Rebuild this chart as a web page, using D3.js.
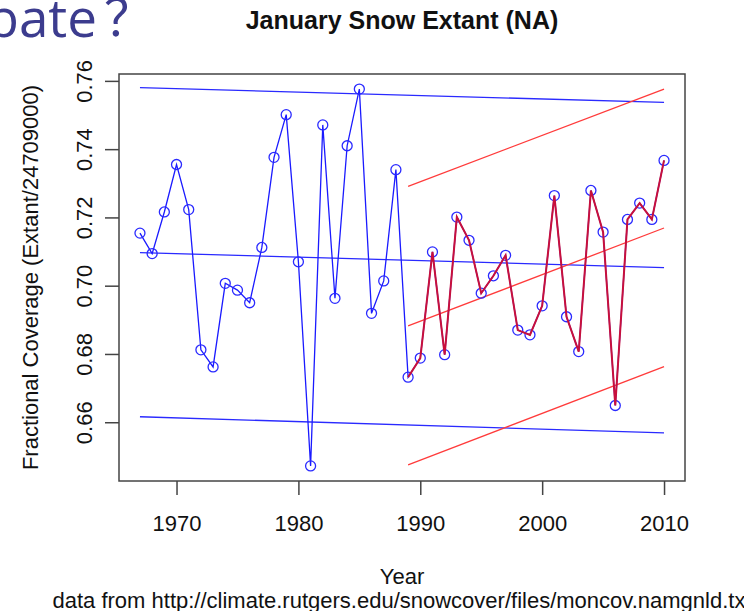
<!DOCTYPE html>
<html>
<head>
<meta charset="utf-8">
<script src="https://cdn.jsdelivr.net/npm/d3@7"></script>
<style>
  html, body { margin: 0; padding: 0; background: #ffffff; }
  svg { display: block; }
  text { font-family: "Liberation Sans", Arial, sans-serif; fill: #111; }
</style>
</head>
<body>
<svg id="chart" width="744" height="611"></svg>
<script>
// January snow cover over North America, as a fraction of 24,709,000 km²
const years = [1967, 1968, 1969, 1970, 1971, 1972, 1973, 1974, 1975, 1976,
               1977, 1978, 1979, 1980, 1981, 1982, 1983, 1984, 1985, 1986,
               1987, 1988, 1989, 1990, 1991, 1992, 1993, 1994, 1995, 1996,
               1997, 1998, 1999, 2000, 2001, 2002, 2003, 2004, 2005, 2006,
               2007, 2008, 2009, 2010];
const coverage = [0.7154, 0.7094, 0.7216, 0.7355, 0.7223, 0.6812, 0.6762, 0.7007, 0.6987, 0.6950,
                  0.7112, 0.7376, 0.7501, 0.7070, 0.6472, 0.7471, 0.6963, 0.7410, 0.7576, 0.6919,
                  0.7014, 0.7340, 0.6732, 0.6788, 0.7099, 0.6798, 0.7201, 0.7133, 0.6978, 0.7029,
                  0.7089, 0.6870, 0.6856, 0.6941, 0.7264, 0.6909, 0.6807, 0.7279, 0.7157, 0.6649,
                  0.7194, 0.7242, 0.7194, 0.7367];

// Start year of the recent sub-period that gets its own fit
const recentStart = 1989;

// Linear fit over the whole record, with its upper and lower bands (end points)
const fullFitYears  = [1967, 2010];
const fullFitMean   = [0.7097, 0.7053];
const fullFitUpper  = [0.7580, 0.7537];
const fullFitLower  = [0.6616, 0.6569];

// Linear fit over 1989-2010, with bands
const recentFitYears = [1989, 2010];
const recentFitMean  = [0.6882, 0.7169];
const recentFitUpper = [0.7291, 0.7576];
const recentFitLower = [0.6475, 0.6763];

const xTicks = [1970, 1980, 1990, 2000, 2010];
const yTicks = [0.66, 0.68, 0.70, 0.72, 0.74, 0.76];

const titleText = "January Snow Extant (NA)";
const xLabel = "Year";
const yLabel = "Fractional Coverage (Extant/24709000)";
const sourceText = "data from http://climate.rutgers.edu/snowcover/files/moncov.namgnld.txt";
const slideHeading = "Debate";

const W = 744, H = 611;
const margin = { top: 74, right: 59, bottom: 130, left: 119 };
const svg = d3.select("#chart");

// Axis ranges padded by 4% of the data span on each side
const xExt = d3.extent(years), yExt = d3.extent(coverage);
const xPad = (xExt[1] - xExt[0]) * 0.04, yPad = (yExt[1] - yExt[0]) * 0.04;
const x = d3.scaleLinear().domain([xExt[0] - xPad, xExt[1] + xPad]).range([margin.left, W - margin.right]);
const y = d3.scaleLinear().domain([yExt[0] - yPad, yExt[1] + yPad]).range([H - margin.bottom, margin.top]);

// Slide heading fragment in the upper-left corner
svg.append("text")
  .attr("x", 97).attr("y", 37)
  .attr("text-anchor", "end")
  .style("font-family", "'Open Sans', sans-serif")
  .style("font-size", "53px")
  .style("fill", "#3c3c8e")
  .text(slideHeading);
svg.append("text")
  .attr("x", 104).attr("y", 36)
  .style("font-family", "'Noto Sans CJK SC', sans-serif")
  .style("font-size", "50px")
  .style("fill", "#3c3c8e")
  .text("？");

// Title
svg.append("text")
  .attr("x", (margin.left + W - margin.right) / 2).attr("y", 29)
  .attr("text-anchor", "middle")
  .style("font-weight", "bold").style("font-size", "25px")
  .text(titleText);

// X axis
const xAxis = svg.append("g")
  .attr("transform", `translate(0,${H - margin.bottom})`)
  .call(d3.axisBottom(x).tickValues(xTicks).tickFormat(d3.format("d")).tickSize(14).tickPadding(20));
xAxis.select(".domain").remove();
xAxis.selectAll(".tick line").attr("stroke", "#444").attr("stroke-width", 1.5);
xAxis.selectAll(".tick text")
  .style("font-family", "'Liberation Sans', Arial, sans-serif")
  .style("font-size", "22px").attr("fill", "#111");

// Y axis with labels running parallel to the axis
const yAxis = svg.append("g")
  .attr("transform", `translate(${margin.left},0)`)
  .call(d3.axisLeft(y).tickValues(yTicks).tickFormat(d3.format(".2f")).tickSize(14));
yAxis.select(".domain").remove();
yAxis.selectAll(".tick line").attr("stroke", "#444").attr("stroke-width", 1.5);
yAxis.selectAll(".tick text")
  .attr("x", 0).attr("y", 0).attr("dy", 0)
  .attr("text-anchor", "middle")
  .attr("transform", "translate(-27,0) rotate(-90)")
  .style("font-family", "'Liberation Sans', Arial, sans-serif")
  .style("font-size", "22px").attr("fill", "#111");

// Axis titles and data source line
svg.append("text")
  .attr("x", (margin.left + W - margin.right) / 2).attr("y", 584)
  .attr("text-anchor", "middle").style("font-size", "22px")
  .text(xLabel);
svg.append("text")
  .attr("transform", `translate(38,${(margin.top + H - margin.bottom) / 2}) rotate(-90)`)
  .attr("text-anchor", "middle").style("font-size", "22px")
  .text(yLabel);
svg.append("text")
  .attr("x", (margin.left + W - margin.right) / 2).attr("y", 608)
  .attr("text-anchor", "middle").style("font-size", "22px")
  .text(sourceText);

const plot = svg.append("g");
const pts = years.map((yr, i) => ({ yr, v: coverage[i] }));
const line = d3.line().x(d => x(d.yr)).y(d => y(d.v));

// Fitted lines and bands
function fitLine(xs, vs, color) {
  plot.append("path")
    .datum(xs.map((yr, i) => ({ yr, v: vs[i] })))
    .attr("d", line)
    .attr("fill", "none").attr("stroke", color).attr("stroke-width", 1.3);
}
[fullFitMean, fullFitUpper, fullFitLower].forEach(vs => fitLine(fullFitYears, vs, "#2a2aff"));
[recentFitMean, recentFitUpper, recentFitLower].forEach(vs => fitLine(recentFitYears, vs, "#ff3b3b"));

// Full record: blue line with open circles
plot.append("path").datum(pts).attr("d", line)
  .attr("fill", "none").attr("stroke", "#1a1aff").attr("stroke-width", 1.3);
plot.selectAll("circle").data(pts).enter().append("circle")
  .attr("cx", d => x(d.yr)).attr("cy", d => y(d.v)).attr("r", 5)
  .attr("fill", "none").attr("stroke", "#2a2aff").attr("stroke-width", 1.3);

// Recent period overlay
plot.append("path").datum(pts.filter(d => d.yr >= recentStart)).attr("d", line)
  .attr("fill", "none").attr("stroke", "#c8103c").attr("stroke-width", 2);

// Plot frame
svg.append("rect")
  .attr("x", margin.left).attr("y", margin.top)
  .attr("width", W - margin.left - margin.right)
  .attr("height", H - margin.top - margin.bottom)
  .attr("fill", "none").attr("stroke", "#444").attr("stroke-width", 1.5);
</script>
</body>
</html>
